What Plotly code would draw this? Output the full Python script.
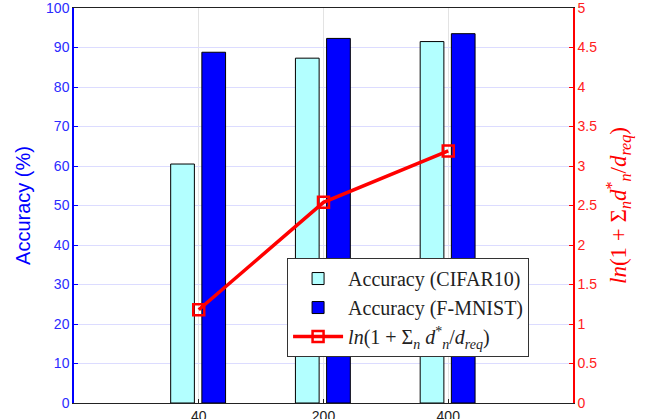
import plotly.graph_objects as go

categories = ["40", "200", "400"]
acc_cifar10 = [60.5, 87.3, 91.5]
acc_fmnist = [88.8, 92.3, 93.5]
ln_ratio = [1.18, 2.54, 3.19]

xpos = [i + 1 for i in range(len(categories))]

fig = go.Figure()
fig.add_trace(go.Bar(
    x=xpos, y=acc_cifar10, name="Accuracy (CIFAR10)",
    width=0.19, offset=-0.225,
    marker=dict(color="#b3ffff", line=dict(color="black", width=1)),
))
fig.add_trace(go.Bar(
    x=xpos, y=acc_fmnist, name="Accuracy (F-MNIST)",
    width=0.19, offset=0.025,
    marker=dict(color="#0000ff", line=dict(color="black", width=1)),
))
fig.add_trace(go.Scatter(
    x=xpos, y=ln_ratio, yaxis="y2", mode="lines+markers",
    name="<i>ln</i>(1 + Σ<sub><i>n</i></sub> <i>d</i><sup>*</sup><sub><i>n</i></sub>/<i>d</i><sub><i>req</i></sub>)",
    line=dict(color="#ff0000", width=3.5),
    marker=dict(symbol="square-open", size=11, color="#ff0000", line=dict(width=2.5, color="#ff0000")),
))

fig.update_layout(
    width=651, height=419,
    margin=dict(l=74, r=78, t=8, b=16),
    plot_bgcolor="white", paper_bgcolor="white",
    barmode="overlay",
    showlegend=True,
    legend=dict(
        x=0.427, y=0.367, xanchor="left", yanchor="top",
        bgcolor="white", bordercolor="#333333", borderwidth=1,
        font=dict(family="Liberation Serif", size=20, color="#222222"),
        tracegroupgap=0, itemwidth=50,
    ),
    xaxis=dict(
        range=[0, 4], tickvals=xpos, ticktext=categories,
        showgrid=True, gridcolor="#e3e3e3", gridwidth=1,
        showline=True, linecolor="#222222", linewidth=1, mirror=True,
        ticks="inside", ticklen=4, tickcolor="#222222",
        tickfont=dict(family="Liberation Sans", size=14, color="#222222"),
        zeroline=False, automargin=False, ticklabeloverflow="allow",
    ),
    yaxis=dict(
        range=[0, 100], dtick=10,
        showgrid=True, gridcolor="#dcdcff", gridwidth=1,
        showline=True, linecolor="#0000ff", linewidth=1.5,
        ticks="inside", ticklen=4, tickcolor="#0000ff",
        tickfont=dict(family="Liberation Sans", size=14, color="#2b2bff"),
        title=dict(text="Accuracy (%)", font=dict(family="Liberation Sans", size=20, color="#0000ff"), standoff=10),
        zeroline=False, automargin=False, ticklabeloverflow="allow",
    ),
    yaxis2=dict(
        range=[0, 5], dtick=0.5, overlaying="y", side="right",
        showgrid=False,
        showline=True, linecolor="#ff0000", linewidth=1.5,
        ticks="inside", ticklen=4, tickcolor="#ff0000",
        tickfont=dict(family="Liberation Sans", size=14, color="#ff2020"),
        title=dict(text="<i>ln</i>(1 + Σ<sub><i>n</i></sub><i>d</i><sup>*</sup><sub><i>n</i></sub>/<i>d</i><sub><i>req</i></sub>)",
                   font=dict(family="Liberation Serif", size=23, color="#ff0000"), standoff=14),
        zeroline=False, automargin=False, ticklabeloverflow="allow",
    ),
)

fig.write_html("out.html")
